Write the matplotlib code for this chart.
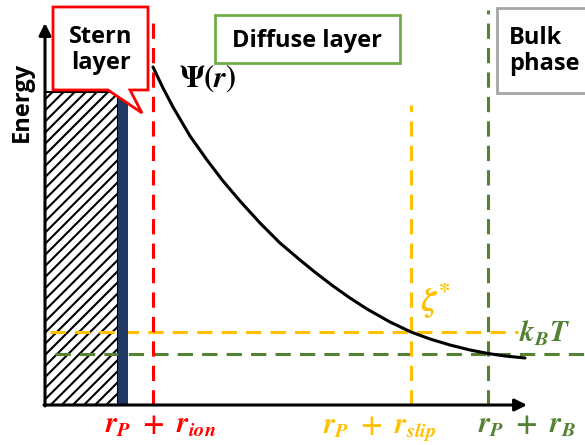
import matplotlib.pyplot as plt
from matplotlib.patches import Rectangle, Polygon

plt.rcParams['mathtext.fontset'] = 'custom'
plt.rcParams['mathtext.it'] = 'STIXGeneral:italic:bold'
plt.rcParams['mathtext.rm'] = 'STIXGeneral:bold'
plt.rcParams['mathtext.bf'] = 'STIXGeneral:bold'
plt.rcParams['hatch.linewidth'] = 1.5

# Radial positions (distance from particle surface) and energy levels
r_ion = 108
r_slip = 366
r_bulk = 443
zeta_level = 73
kT_level = 51

# Surface potential Psi(r) through the diffuse layer
r_vals = [108, 118, 128, 145, 162, 178, 195, 215, 235, 255, 271, 288, 305,
          322, 345, 366, 385, 405, 425, 443, 460, 480]
psi_vals = [338, 317, 298, 269, 245, 224, 204, 182, 162, 145, 132, 119, 107,
            96, 83, 73, 66, 60, 55, 51.5, 49, 47]

# Particle core (hatched) and Stern layer (dark strip)
core_width = 73
stern_width = 10
surface_height = 313

red = '#FF0000'
gold = '#FFC000'
green = '#548235'
box_green = '#70AD47'
navy = '#203864'
label_font = 'Open Sans'

fig = plt.figure(figsize=(5.85, 4.45), dpi=100)
ax = fig.add_axes([0, 0, 1, 1])
ax.set_xlim(-45, 540)
ax.set_ylim(-40, 405)
ax.axis('off')

# particle core
ax.add_patch(Rectangle((0, 0), core_width, surface_height, facecolor='white',
                       edgecolor='black', hatch='///', linewidth=1.5, zorder=1))

dash = (5, 3)
# horizontal energy levels
ax.plot([5, r_bulk + 30], [zeta_level, zeta_level], color=gold, lw=2.2, dashes=dash, zorder=2)
ax.plot([10, 545], [kT_level, kT_level], color=green, lw=2.2, dashes=dash, zorder=2)

# Stern layer strip
ax.add_patch(Rectangle((core_width, 0), stern_width, surface_height,
                       facecolor=navy, edgecolor='none', zorder=3))

# vertical boundaries
ax.plot([r_ion, r_ion], [0, 383], color=red, lw=2.2, dashes=dash, zorder=2)
ax.plot([r_slip, r_slip], [0, 300], color=gold, lw=2.2, dashes=dash, zorder=2)
ax.plot([r_bulk, r_bulk], [0, 395], color=green, lw=2.2, dashes=dash, zorder=2)

# potential curve
ax.plot(r_vals, psi_vals, color='black', lw=2.2, zorder=4,
        solid_joinstyle='round', solid_capstyle='round')

# axes arrows
ax.annotate('', xy=(482, 0), xytext=(-1, 0),
            arrowprops=dict(arrowstyle='-|>', color='black', lw=2.2,
                            mutation_scale=18, shrinkA=0, shrinkB=0), zorder=5)
ax.annotate('', xy=(0, 382), xytext=(0, -1),
            arrowprops=dict(arrowstyle='-|>', color='black', lw=2.2,
                            mutation_scale=18, shrinkA=0, shrinkB=0), zorder=5)

ax.text(-23, 303, 'Energy', rotation=90, ha='center', va='center',
        fontsize=17, fontweight='bold', family=label_font)

# Stern layer callout
callout = [(8, 398), (103, 398), (103, 315), (85, 315), (97, 292),
           (63, 315), (8, 315)]
ax.add_patch(Polygon(callout, closed=True, facecolor='white', edgecolor=red,
                     lw=2, zorder=6))
ax.text(56, 355, 'Stern\nlayer', ha='center', va='center', fontsize=17,
        fontweight='bold', family=label_font, linespacing=1.15, zorder=7)

# Diffuse layer box
ax.add_patch(Rectangle((170, 342), 185, 48, facecolor='white',
                       edgecolor=box_green, lw=2, zorder=6))
ax.text(262, 364, 'Diffuse layer', ha='center', va='center', fontsize=17,
        fontweight='bold', family=label_font, zorder=7)

# Bulk phase box
ax.add_patch(Rectangle((452, 312), 100, 85, facecolor='white',
                       edgecolor='#A6A6A6', lw=2, zorder=6))
ax.text(464, 354, 'Bulk\nphase', ha='left', va='center', fontsize=17,
        fontweight='bold', family=label_font, linespacing=1.15, zorder=7)

# math labels
ax.text(163, 327, r'$\Psi(r)$', ha='center', va='center', fontsize=22, zorder=7)
ax.text(376, 103, r'$\zeta^{*}$', ha='left', va='center', fontsize=23,
        color=gold, zorder=7)
ax.text(474, 72, r'$k_B T$', ha='left', va='center', fontsize=21,
        color=green, zorder=7)

ax.text(116, -28, r'$r_P\ +\ r_{ion}$', ha='center', va='baseline',
        fontsize=21, color=red)
ax.text(335, -28, r'$r_P\ +\ r_{slip}$', ha='center', va='baseline',
        fontsize=21, color=gold)
ax.text(433, -28, r'$r_P\ +\ r_B$', ha='left', va='baseline',
        fontsize=21, color=green)

fig.savefig('out.png', dpi=100)
